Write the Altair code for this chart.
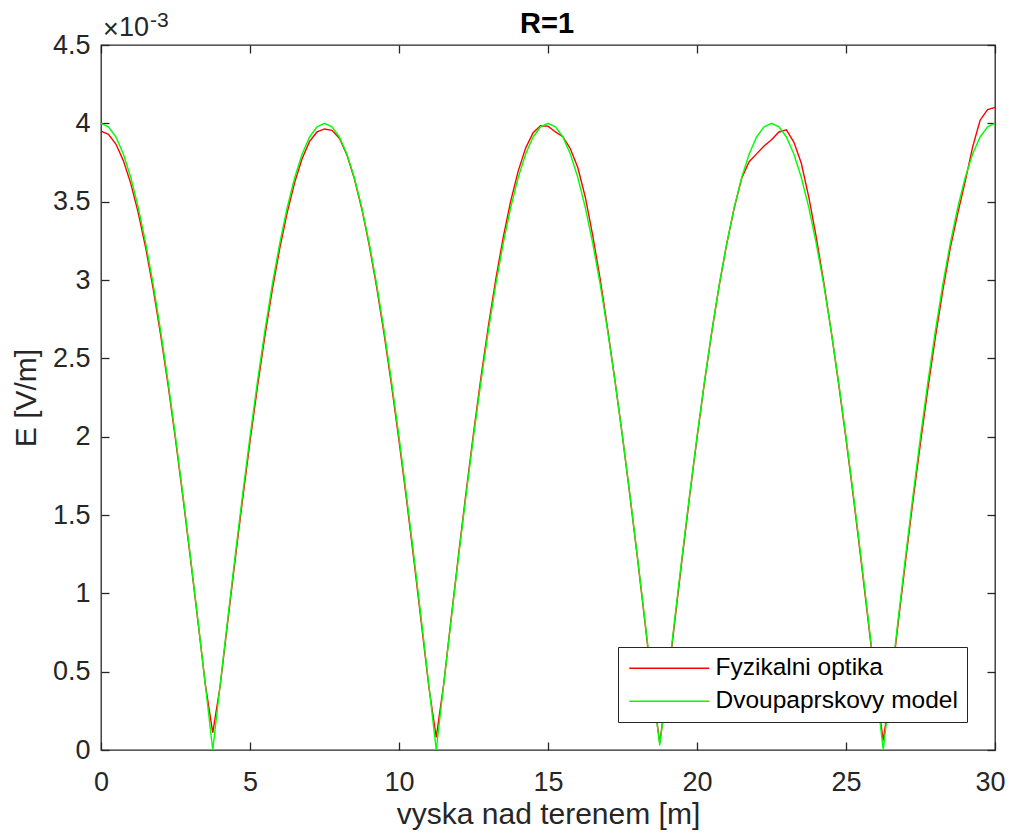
import altair as alt
import pandas as pd

# sample positions (m)
x_vals = [i * 0.25 for i in range(121)]

# Dvoupaprskovy model (x1e-3 V/m)
green = [
    4.000, 3.978, 3.913, 3.804, 3.654, 3.464, 3.236, 2.973, 2.677, 2.351, 2.000, 1.627, 1.236, 0.832, 0.418,
    0.000,
    0.418, 0.832, 1.236, 1.627, 2.000, 2.351, 2.677, 2.973, 3.236, 3.464, 3.654, 3.804, 3.913, 3.978,
    4.000,
    3.978, 3.913, 3.804, 3.654, 3.464, 3.236, 2.973, 2.677, 2.351, 2.000, 1.627, 1.236, 0.832, 0.418,
    0.000,
    0.418, 0.832, 1.236, 1.627, 2.000, 2.351, 2.677, 2.973, 3.236, 3.464, 3.654, 3.804, 3.913, 3.978,
    4.000,
    3.978, 3.913, 3.804, 3.654, 3.464, 3.236, 2.973, 2.677, 2.351, 2.000, 1.627, 1.236, 0.832, 0.418,
    0.030,
    0.418, 0.832, 1.236, 1.627, 2.000, 2.351, 2.677, 2.973, 3.236, 3.464, 3.654, 3.804, 3.913, 3.978,
    4.000,
    3.978, 3.913, 3.804, 3.654, 3.464, 3.236, 2.973, 2.677, 2.351, 2.000, 1.627, 1.236, 0.832, 0.418,
    0.000,
    0.418, 0.832, 1.236, 1.627, 2.000, 2.351, 2.677, 2.973, 3.236, 3.464, 3.654, 3.804, 3.913, 3.978,
    4.000,
]

# Fyzikalni optika (x1e-3 V/m)
red = [
    3.950, 3.930, 3.868, 3.762, 3.615, 3.428, 3.205, 2.945, 2.652, 2.330, 1.982, 1.612, 1.225, 0.826, 0.420,
    0.110,
    0.410, 0.815, 1.212, 1.598, 1.968, 2.318, 2.643, 2.940, 3.203, 3.432, 3.623, 3.775, 3.885, 3.945,
    3.964,
    3.955, 3.905, 3.800, 3.648, 3.455, 3.222, 2.955, 2.655, 2.327, 1.975, 1.602, 1.212, 0.810, 0.405,
    0.080,
    0.420, 0.840, 1.250, 1.645, 2.022, 2.378, 2.708, 3.008, 3.275, 3.505, 3.695, 3.842, 3.940, 3.985,
    3.982,
    3.945, 3.915, 3.838, 3.718, 3.530, 3.285, 3.008, 2.690, 2.355, 2.000, 1.622, 1.228, 0.820, 0.405,
    0.045,
    0.400, 0.815, 1.220, 1.615, 1.990, 2.345, 2.672, 2.970, 3.232, 3.460, 3.650, 3.755, 3.805, 3.855,
    3.895,
    3.945, 3.958, 3.880, 3.745, 3.530, 3.275, 2.990, 2.677, 2.340, 1.985, 1.610, 1.218, 0.815, 0.405,
    0.060,
    0.400, 0.810, 1.210, 1.595, 1.962, 2.310, 2.635, 2.935, 3.205, 3.425, 3.630, 3.850, 4.020, 4.088,
    4.102,
]

series_names = ["Fyzikalni optika", "Dvoupaprskovy model"]
series_colors = ["#FF0000", "#00FF00"]
x_ticks = [0, 5, 10, 15, 20, 25, 30]
y_ticks = [0, 0.5, 1, 1.5, 2, 2.5, 3, 3.5, 4, 4.5]

FONT = "Liberation Sans"
AX = "#262626"
W, H = 894, 705

df = pd.DataFrame({
    "h": x_vals + x_vals,
    "E": red + green,
    "series": [series_names[0]] * len(red) + [series_names[1]] * len(green),
})

xs = alt.Scale(domain=[0, 30], nice=False, zero=False)
ys = alt.Scale(domain=[0, 4.5], nice=False, zero=False)

color = alt.Color(
    "series:N",
    scale=alt.Scale(domain=series_names, range=series_colors),
    legend=alt.Legend(
        title=None, orient="none", legendX=517, legendY=602,
        symbolType="M-1,0H7", symbolSize=400, symbolStrokeWidth=1.3,
        labelOffset=64, labelFont=FONT, labelFontSize=24.5, labelColor="#000000",
        padding=9, rowPadding=8, strokeColor=AX, fillColor="#FFFFFF",
        labelLimit=400,
    ),
)

base = alt.Chart(df)

tick_style = dict(labels=False, domain=False, grid=False, ticks=True, tickSize=8,
                  tickColor=AX, tickWidth=1.3, offset=-8, title=None)

last_x = x_ticks[-1]

red_layer = base.transform_filter(alt.datum.series == series_names[0]).mark_line(
    strokeWidth=1.4
).encode(
    x=alt.X("h:Q", scale=xs, axis=alt.Axis(
        orient="bottom", values=x_ticks, format="~g", ticks=False, domain=False, grid=False,
        labelFont=FONT, labelFontSize=27, labelColor=AX, labelPadding=19, labelFlush=False,
        labelOffset={"condition": {"test": f"datum.value === {last_x}", "value": -5}, "value": 0},
        title="vyska nad terenem [m]", titleFont=FONT, titleFontSize=30,
        titleFontWeight="normal", titleColor=AX, titleBaseline="alphabetic",
        titleX=W / 2, titleY=73,
    )),
    y=alt.Y("E:Q", scale=ys, axis=alt.Axis(
        orient="left", values=y_ticks, format="~g", ticks=False, domain=False, grid=False,
        labelFont=FONT, labelFontSize=27, labelColor=AX, labelPadding=11, labelFlush=False,
        title="E [V/m]", titleFont=FONT, titleFontSize=30, titleFontWeight="normal",
        titleColor=AX, titleBaseline="alphabetic", titleAngle=270,
        titleX=-65.5, titleY=H / 2,
    )),
    color=color,
)

green_layer = base.transform_filter(alt.datum.series == series_names[1]).mark_line(
    strokeWidth=1.4
).encode(
    x=alt.X("h:Q", scale=xs, axis=alt.Axis(orient="bottom", values=x_ticks, **tick_style)),
    y=alt.Y("E:Q", scale=ys, axis=alt.Axis(orient="left", values=y_ticks, **tick_style)),
    color=color,
)

tick_layer = base.mark_point(opacity=0).encode(
    x=alt.X("h:Q", scale=xs, axis=alt.Axis(orient="top", values=x_ticks, **tick_style)),
    y=alt.Y("E:Q", scale=ys, axis=alt.Axis(orient="right", values=y_ticks, **tick_style)),
)

title_text = alt.Chart(pd.DataFrame({"t": ["R=1"]})).mark_text(
    font=FONT, fontSize=29, fontWeight="bold", color="#000000",
    align="center", baseline="alphabetic",
).encode(text="t:N", x=alt.value(446), y=alt.value(-12.5))

exp_times = alt.Chart(pd.DataFrame({"t": ["\u00d7"]})).mark_text(
    font=FONT, fontSize=27, color=AX, align="left", baseline="alphabetic",
).encode(text="t:N", x=alt.value(2), y=alt.value(-7))

exp_base = alt.Chart(pd.DataFrame({"t": ["10"]})).mark_text(
    font=FONT, fontSize=27, color=AX, align="left", baseline="alphabetic",
).encode(text="t:N", x=alt.value(18), y=alt.value(-9))

exp_sup = alt.Chart(pd.DataFrame({"t": ["-3"]})).mark_text(
    font=FONT, fontSize=21, color=AX, align="left", baseline="alphabetic",
).encode(text="t:N", x=alt.value(49), y=alt.value(-18))

chart = alt.layer(
    red_layer, green_layer, tick_layer, title_text, exp_times, exp_base, exp_sup
).resolve_axis(x="independent", y="independent").properties(
    width=W, height=H,
    autosize=alt.AutoSizeParams(type="none"),
    padding={"left": 93, "top": 37, "right": 10, "bottom": 80},
    background="#FFFFFF",
).configure_view(stroke=AX, strokeWidth=1.3)

chart.save("out.html", embed_options={"renderer": "svg", "actions": False})
